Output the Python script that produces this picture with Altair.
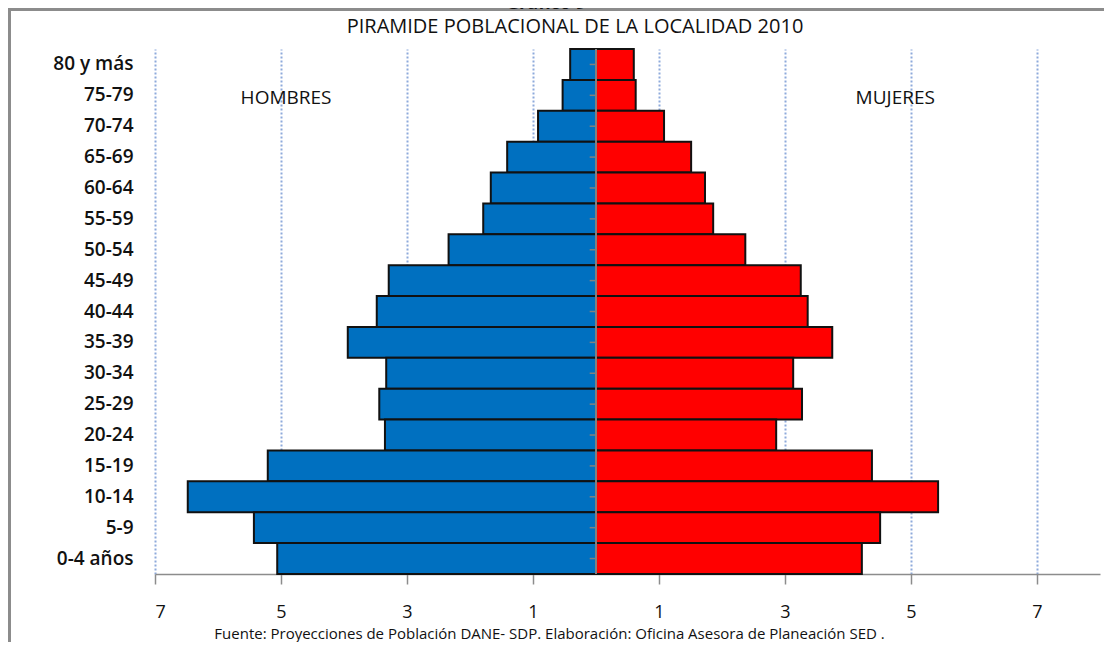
import altair as alt
import pandas as pd

ages = ["80 y más", "75-79", "70-74", "65-69", "60-64", "55-59", "50-54", "45-49",
        "40-44", "35-39", "30-34", "25-29", "20-24", "15-19", "10-14", "5-9", "0-4 años"]
hombres = [0.41, 0.53, 0.92, 1.41, 1.67, 1.79, 2.34, 3.29, 3.48, 3.94, 3.33, 3.44, 3.35, 5.21, 6.48, 5.43, 5.06]
mujeres = [0.60, 0.63, 1.08, 1.51, 1.73, 1.86, 2.37, 3.25, 3.36, 3.75, 3.13, 3.27, 2.86, 4.38, 5.43, 4.51, 4.22]
tick_values = [-7, -5, -3, -1, 1, 3, 5, 7]
sexes = ["Hombres", "Mujeres"]
colors = ["#0070C0", "#FF0000"]

rows = []
for a, h, m in zip(ages, hombres, mujeres):
    rows.append({"age": a, "sex": "Hombres", "value": -h})
    rows.append({"age": a, "sex": "Mujeres", "value": m})
df = pd.DataFrame(rows)

lab = pd.DataFrame({"text": ["HOMBRES", "MUJERES"], "x": [-4.92, 4.75], "age": ["75-79", "75-79"]})
ctr = pd.DataFrame({"age": ages, "x1": [-0.1] * len(ages), "x2": [0.0] * len(ages)})

FONT = "Open Sans"

xscale = alt.Scale(domain=[-7, 8], nice=False, zero=False)
yscale = alt.Scale(domain=ages, paddingInner=0, paddingOuter=0)

one = pd.DataFrame({"k": [0]})
border_left = alt.Chart(one).mark_rule(stroke="#8c8c8c", strokeWidth=3).encode(
    x=alt.value(-145.5), y=alt.value(-41), y2=alt.value(593))
border_top = alt.Chart(one).mark_rule(stroke="#8c8c8c", strokeWidth=3).encode(
    x=alt.value(-147), x2=alt.value(955), y=alt.value(-39.5))

bars = alt.Chart(df).mark_bar(stroke="#111111", strokeWidth=2).encode(
    x=alt.X("value:Q", scale=xscale,
            axis=alt.Axis(values=tick_values, labelExpr="abs(datum.value)",
                          grid=True, gridDash=[2, 2], gridColor="#8eaadb", gridWidth=2,
                          domainColor="#8c8c8c", domainWidth=1.5,
                          tickColor="#8c8c8c", tickSize=10, tickWidth=1.5,
                          labelFont=FONT, labelFontSize=18, labelColor="#111111",
                          labelPadding=19,
                          title="Fuente: Proyecciones de Población DANE- SDP.  Elaboración: Oficina Asesora de Planeación SED .",
                          titleFont=FONT, titleFontSize=15, titleFontWeight="normal",
                          titleColor="#111111", titleX=394, titleY=59, titleBaseline="middle")),
    y=alt.Y("age:N", scale=yscale, sort=ages,
            axis=alt.Axis(title=None, domain=False, ticks=False, tickSize=0, labelPadding=22,
                          labelFont=FONT, labelFontSize=19, labelFontWeight=600,
                          labelColor="#111111", grid=False)),
    color=alt.Color("sex:N", scale=alt.Scale(domain=sexes, range=colors), legend=None),
)

center = alt.Chart(pd.DataFrame({"x": [0]})).mark_rule(color="#808080", strokeWidth=2).encode(
    x=alt.X("x:Q", scale=xscale)
)

cticks = alt.Chart(ctr).mark_rule(color="#808080", strokeWidth=1.5).encode(
    x=alt.X("x1:Q", scale=xscale), x2="x2:Q",
    y=alt.Y("age:N", scale=yscale, sort=ages, bandPosition=0.5)
)

texts = alt.Chart(lab).mark_text(font=FONT, fontSize=19, color="#111111", dy=3).encode(
    x=alt.X("x:Q", scale=xscale), y=alt.Y("age:N", scale=yscale, sort=ages, bandPosition=0.5),
    text="text:N"
)

title = alt.Chart(pd.DataFrame({"t": ["PIRAMIDE POBLACIONAL DE LA LOCALIDAD 2010"]})).mark_text(
    font=FONT, fontSize=20, color="#111111", baseline="middle", align="center"
).encode(x=alt.value(420), y=alt.value(-22), text="t:N")

grafico = alt.Chart(pd.DataFrame({"t": ["Gráfico 9"]})).mark_text(
    font=FONT, fontSize=18, fontWeight="bold", color="#111111", baseline="alphabetic"
).encode(x=alt.value(391), y=alt.value(-40), text="t:N")

chart = alt.layer(border_left, border_top, bars, cticks, center, texts, title, grafico).properties(
    width=945, height=525,
    autosize=alt.AutoSizeParams(type="none"),
    padding={"left": 147, "top": 41, "right": 4, "bottom": 68},
    background="white",
).configure_view(stroke=None)

chart.save("out.html", embed_options={"renderer": "svg", "actions": False})
